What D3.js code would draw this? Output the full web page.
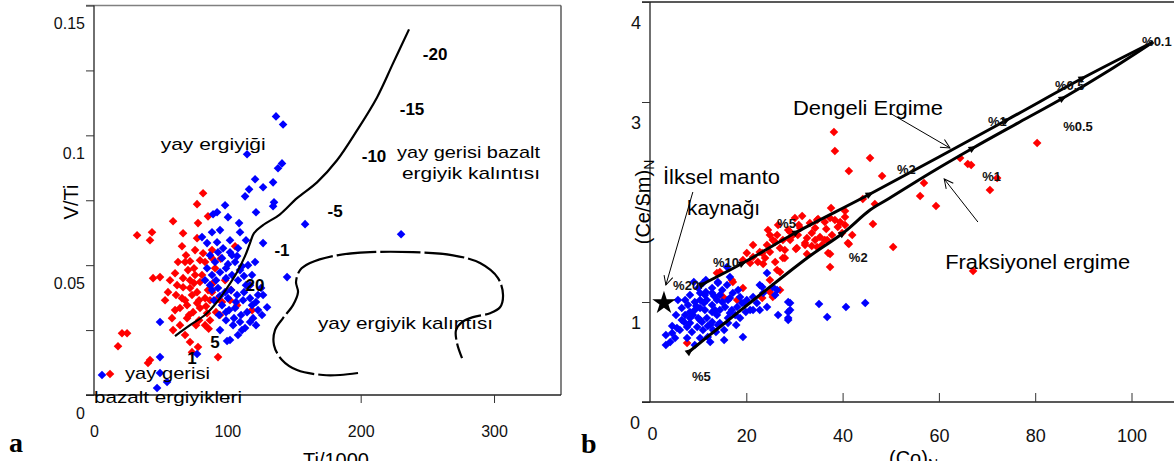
<!DOCTYPE html>
<html><head><meta charset="utf-8">
<script src="https://cdn.jsdelivr.net/npm/d3@7"></script>
<style>
body{margin:0;background:#fff;}
svg{display:block;font-family:"Liberation Sans",Arial,sans-serif;}
</style></head><body>
<svg id="c" width="1174" height="461"></svg>
<script>
// ---------- DATA : panel a (V/Ti vs Ti) ----------
const leftYTicks = [0,0.025,0.05,0.075,0.1,0.125,0.15];
const leftYLabels = {0:"0",0.05:"0.05",0.1:"0.1",0.15:"0.15"};
const leftXTicks = [0,100,200,300];
const leftRed = [[81.8,0.0777],[77.3,0.0735],[85.5,0.0688],[59.3,0.0669],[78,0.0662],[43.5,0.0627],[32.3,0.0615],[42,0.0596],[66.8,0.0623],[77.3,0.0604],[66,0.0573],[105.8,0.0573],[75.8,0.0558],[81.8,0.0546],[72,0.0515],[79.5,0.0519],[60.8,0.0469],[44.3,0.045],[49.5,0.0454],[70.5,0.0481],[72,0.0442],[66.8,0.0415],[66,0.0373],[69.8,0.0346],[64.5,0.0335],[74.3,0.0319],[72,0.0412],[77.3,0.0396],[79.5,0.0435],[83.3,0.0373],[77.3,0.0354],[85.5,0.0404],[79.5,0.0335],[84.8,0.0315],[96,0.0358],[107.3,0.0346],[118.5,0.0327],[59.3,0.025],[68.3,0.0231],[72,0.0204],[21,0.0238],[24.8,0.0238],[18,0.0188],[78,0.0185],[42,0.0135],[40.5,0.0123],[93,0.0146],[12,0.0081],[73.5,0.0165],[90.8,0.0488],[88.5,0.0558],[68.3,0.0512],[62.3,0.0423],[75.8,0.0462],[87,0.0365],[91.5,0.0319],[69.8,0.0296],[55.5,0.0396],[83.3,0.0269],[102.8,0.0404],[89.3,0.0431],[78.8,0.0288],[60.8,0.0327],[86,0.0255],[95,0.0525],
  [63,0.0512],[69,0.0538],[75,0.0488],[81,0.0462],[57,0.0442],[61.5,0.0385],[68.3,0.0365],[73.5,0.0385],[78.8,0.0365],[84,0.0342],[88.5,0.0396],[93,0.0373],[71.3,0.0308],[76.5,0.0269],[58.5,0.0296],[64.5,0.0269],[87,0.0288],[98.3,0.0442],[102,0.0365],[94.5,0.0308],[75,0.0431],[83.3,0.0512],[66.8,0.045],[88.5,0.0527],[53.3,0.0365]];
const leftBlue = [[136.5,0.1073],[141.8,0.1042],[114.8,0.0927],[141,0.0892],[138,0.0873],[120.8,0.0831],[134.3,0.0819],[126.8,0.08],[116.3,0.0792],[113.3,0.0765],[135,0.0742],[134.3,0.0727],[98.3,0.0731],[121.5,0.0704],[92.3,0.0704],[89.3,0.0696],[100.5,0.0685],[108.8,0.0662],[109.5,0.0627],[94.5,0.0635],[88.5,0.0627],[81,0.0608],[126.8,0.0585],[92.3,0.0588],[84.8,0.0585],[96.8,0.0565],[102,0.055],[107.3,0.0535],[144.8,0.0454],[158.3,0.0658],[230.3,0.0619],[49.5,0.0281],[49.5,0.0146],[6,0.0077],[49.5,0.0085],[54.8,0.005],[47.3,0.0027],[77.3,0.0158],[99.8,0.0208],[126.8,0.0385],[129.8,0.0338],[84.8,0.0488],[90.8,0.0512],[96,0.0527],[100.5,0.0504],[105.8,0.0512],[111,0.0496],[115.5,0.05],[88.5,0.0462],[94.5,0.0473],[99,0.045],[103.5,0.0462],[108,0.0442],[112.5,0.0458],[117,0.0423],[87,0.0423],[93,0.0412],[98.3,0.0396],[102.8,0.0404],[107.3,0.0385],[111.8,0.0365],[117,0.0373],[121.5,0.0358],[90,0.0365],[96,0.0346],[101.3,0.0327],[105.8,0.0335],[110.3,0.0308],[114.8,0.0319],[119.3,0.0296],[99,0.0288],[104.3,0.0269],[109.5,0.0281],[93.8,0.0308],[113.3,0.0258],[123,0.0327],[83.3,0.0442],[125.3,0.0412],[108,0.0231],[94.5,0.025],[102,0.0212],
  [87,0.0538],[93,0.055],[99,0.0488],[103.5,0.0538],[109.5,0.0481],[114,0.0423],[118.5,0.0462],[123,0.0385],[112.5,0.0396],[106.5,0.0358],[100.5,0.0373],[94.5,0.0381],[88.5,0.0404],[105,0.0296],[99,0.0319],[117,0.0281],[111,0.025],[121.5,0.0269],[126,0.0308],[91.5,0.0442],[118.5,0.0346],[108,0.0565],[114,0.0596],[102,0.0596],[120.8,0.0512]];
const leftCurve = [[60.75,0.0227],[72,0.0269],[83.25,0.0308],[92.25,0.0358],[99.75,0.0412],[107.25,0.0473],[113.25,0.0535],[117,0.0585],[120,0.0623],[126.75,0.0654],[139.5,0.0696],[152.25,0.0758],[167.25,0.0819],[182.25,0.0904],[197.25,0.1019],[212.25,0.1146],[224.25,0.1277],[236.25,0.1408]];
const leftResidue = [[198,0.00846],[184.5,0.0077],[171.75,0.0077],[152.25,0.0096],[141,0.0135],[135,0.0192],[135.75,0.025],[141.75,0.0296],[149.25,0.0346],[153,0.0396],[151.5,0.0435],[154.5,0.0481],[162,0.0508],[182.25,0.0538],[207,0.055],[239.25,0.055],[269.25,0.0538],[289.5,0.0508],[303,0.045],[306.75,0.0385],[304.5,0.0338],[297,0.0315],[284.25,0.03],[276,0.0281],[271.5,0.025],[272.25,0.02],[276,0.0142]];
const leftBoldLabels = [["-20",255.8,0.1315],["-15",238.5,0.1100],["-10",210,0.0919],["-5",180.8,0.0708],["-1",141,0.0558],["20",120.8,0.0423],["5",90.8,0.0204],["1",73.5,0.0142]];
const leftTexts = [["yay ergiyiği",50,0.0969,105],["yay gerisi bazalt",227.3,0.0935,143],["ergiyik kalıntısı",231,0.0854,138],["yay ergiyik kalıntısı",168,0.0277,175],["yay gerisi",23.3,0.0085,85],["bazalt ergiyikleri",0,-0.0008,148]];

// ---------- DATA : panel b ((Ce/Sm)N vs (Ce)N) ----------
const rightYTicks = [0,1,2,3,4];
const rightYLabels = {0:"0",1:"1",3:"3",4:"4"};
const rightXTicks = [0,20,40,60,80,100];
const rightRed = [[38.2,2.70],[38.4,2.51],[45.7,2.44],[41.3,2.31],[48.2,2.26],[44.2,2.03],[46.7,1.98],[37.6,1.94],[40.5,1.91],[40.5,1.85],[31.6,1.86],[34.9,1.83],[37.4,1.84],[39.5,1.80],[33.2,1.79],[30.9,1.77],[36.6,1.73],[39.0,1.75],[46.3,1.78],[26.6,1.77],[28.7,1.72],[24.9,1.67],[26.4,1.67],[29.7,1.67],[32.6,1.64],[35.3,1.65],[37.8,1.67],[25.5,1.62],[27.6,1.62],[36.3,1.62],[24.3,1.57],[33.6,1.56],[35.7,1.57],[41.3,1.58],[30.3,1.53],[27.0,1.54],[23.3,1.49],[24.9,1.50],[32.6,1.48],[37.4,1.48],[50.5,1.55],[27.6,1.44],[23.5,1.38],[37.4,1.35],[27.0,1.30],[56.9,2.19],[56.1,2.06],[59.4,1.96],[64.4,2.44],[66.0,2.38],[66.7,2.37],[70.6,2.12],[72.1,2.24],[80.4,2.59],[67.1,1.31],[34.7,1.82],[39.9,1.69],[41.1,1.59],[37.0,1.49],[30.7,1.67],[29.1,1.70],[26.0,1.60],[21.4,1.57],[22.8,1.50],[30.5,1.54],[34.7,1.55],[36.8,1.62],[28.0,1.44],[26.4,1.32],[24.9,1.22],[20.1,1.49],[21.4,1.45],[19.3,1.42],[20.8,1.39],[14.5,1.30],[17.0,1.22],[19.3,1.14],[25.5,1.05],[18.1,1.02],[15.2,1.05],[7.7,0.59],[27.0,1.12],[24.9,1.10],[32.2,1.59],[33.6,1.69],[13.9,1.29],[17.2,1.20],[23.3,1.04],
  [29.1,1.62],[31.2,1.74],[34.3,1.74],[36.3,1.80],[38.4,1.82],[32.2,1.57],[28.0,1.52],[23.9,1.44],[26.0,1.40],[22.4,1.40],[34.3,1.62],[40.5,1.77],[42.0,1.67],[30.1,1.84],[24.5,1.72]];
const rightBlue = [[24.3,1.29],[22.8,1.17],[25.5,1.15],[23.5,1.09],[22.2,0.99],[24.3,0.95],[20.8,0.92],[22.8,0.92],[26.6,0.87],[29.1,0.99],[29.1,0.92],[28.7,0.84],[35.1,0.98],[36.8,0.85],[40.7,0.95],[44.7,0.99],[19.3,0.65],[18.7,1.05],[18.1,0.95],[16.6,0.89],[16.2,0.79],[20.1,1.02],[21.4,1.05],[4.2,0.60],[4.6,0.69],[5.6,0.74],[6.6,0.82],[7.7,0.64],[8.3,0.90],[9.3,1.00],[10.4,1.09],[11.0,1.19],[12.9,1.14],[14.5,1.07],[16.0,1.17],[17.2,1.09],[17.7,0.87],[15.6,0.95],[13.9,0.87],[12.5,0.77],[11.0,0.72],[9.8,0.75],[8.3,0.79],[12.0,0.65],[13.1,0.72],[14.5,0.79],[10.0,0.84],[11.4,0.92],[12.9,0.97],[13.9,1.02],[11.8,1.02],[10.4,0.94],[8.9,0.87],[7.7,0.75],[6.2,0.72],[19.7,0.99],[21.4,0.92],[23.3,1.15],[26.0,1.07],[26.4,1.12],[28.7,1.00],[28.7,0.90],[28.7,0.82],[14.1,1.20],[16.6,1.25],[16.0,1.35],[9.3,0.92],[10.8,0.80],[13.5,0.92],[15.0,1.00],[11.8,0.84],[10.4,1.02],[7.3,0.87],[5.2,0.64],[12.9,1.09],[14.1,0.77],[11.4,1.07],[16.2,1.02],
  [7.3,1.02],[8.3,1.07],[10.0,1.14],[11.6,1.10],[13.3,1.06],[15.0,1.12],[16.6,1.04],[18.3,1.12],[7.9,0.97],[9.6,0.96],[11.2,0.99],[12.9,0.90],[14.5,0.92],[16.2,0.84],[7.1,0.80],[8.7,0.70],[10.4,0.64],[12.0,0.76],[13.7,0.70],[15.4,0.72],[5.4,0.87],[6.6,0.94],[4.6,0.76],[3.3,0.67],[9.3,0.57],[12.5,0.60],[17.0,0.92],[18.7,0.84],[10.4,0.82],[12.9,0.80],[14.1,1.19],[11.6,1.22],[9.1,1.20],[19.1,0.99],[19.9,0.90],[17.9,0.77],[15.4,0.62],[5.8,1.02],[3.3,0.57],[8.3,0.84]];
const batchLine = [[11.0,1.18],[19.3,1.39],[30.5,1.70],[45.7,2.08],[74.1,2.82],[89.9,3.24],[104.5,3.60]];
const fracLine = [[8.3,0.51],[14.5,0.75],[22.8,1.07],[27.0,1.23],[33.2,1.46],[40.1,1.69],[45.7,1.92],[49.8,2.04],[58.2,2.29],[67.1,2.54],[76.8,2.80],[85.8,3.04],[95.5,3.32],[104.5,3.60]];
const batchTicks = [11.0,19.3,30.5,45.7,74.1,89.9];
const fracTicks = [8.3,40.1,67.1,85.8];
const primitiveMantle = [2.9,0.99];
const pctLabels = [["%20",4.8,1.17],["%10",13.1,1.40],["%5",26.4,1.79],["%2",51.3,2.33],["%1",70.2,2.81],["%0.5",84.1,3.17],["%0.1",102.2,3.61],["%5",8.7,0.26],["%2",41.3,1.45],["%1",69.0,2.26],["%0.5",85.8,2.76]];
const rightTexts = [["Dengeli Ergime",29.7,2.94,150],["Fraksiyonel ergime",61.3,1.40,185],["İlksel manto",2.7,2.25,117],["kaynağı",7.7,1.94,73]];
const rightArrows = [[[8.9,2.10],[3.3,1.17]],[[49.8,2.89],[62.3,2.54]],[[68.1,1.80],[61.1,2.23]]];

// ---------- DRAW ----------
const svg = d3.select("#c");
const RED = "#ff0000", BLUE = "#0000ff";
const diamond = "M0,-4.3L4.3,0L0,4.3L-4.3,0Z";

// ===== Panel a =====
const xa = d3.scaleLinear().domain([0,350]).range([94,560.7]);
const ya = d3.scaleLinear().domain([0,0.15]).range([395,5.5]);
const ga = svg.append("g");
ga.append("line").attr("x1",86).attr("x2",561).attr("y1",5.5).attr("y2",5.5).attr("stroke","#808080").attr("stroke-width",1.5);
ga.append("line").attr("x1",561).attr("x2",561).attr("y1",5.5).attr("y2",395).attr("stroke","#404040").attr("stroke-width",1.3);
const axYa = ga.append("g").attr("transform","translate(94,0)")
  .call(d3.axisLeft(ya).tickValues(leftYTicks).tickSize(8).tickPadding(1).tickFormat(d=>leftYLabels[d]!==undefined?leftYLabels[d]:""));
const axXa = ga.append("g").attr("transform","translate(0,395)")
  .call(d3.axisBottom(xa).tickValues(leftXTicks).tickSize(8).tickPadding(23).tickFormat(d=>String(d)));
[axYa,axXa].forEach(a=>{a.select(".domain").attr("stroke","#222").attr("stroke-width",1.3);
  a.selectAll(".tick line").attr("stroke","#333");
  a.selectAll("text").attr("font-size",16).attr("fill","#111").attr("font-family","Liberation Sans, Arial");});
axYa.selectAll("text").attr("transform","translate(0,18)");
axYa.select(".domain").attr("d","M0,5.5V395");
axXa.select(".domain").attr("d","M86,0H561");
axXa.selectAll(".tick").filter(d=>d===0).select("line").remove();
// points
ga.selectAll("path.r").data(leftRed).join("path").attr("d",diamond).attr("fill",RED)
  .attr("transform",d=>`translate(${xa(d[0])},${ya(d[1])})`);
ga.selectAll("path.b").data(leftBlue).join("path").attr("d",diamond).attr("fill",BLUE)
  .attr("transform",d=>`translate(${xa(d[0])},${ya(d[1])})`);
// curves
const lineA = d3.line().x(d=>xa(d[0])).y(d=>ya(d[1])).curve(d3.curveCatmullRom);
ga.append("path").attr("d",lineA(leftCurve)).attr("fill","none").attr("stroke","#000").attr("stroke-width",2.2);
ga.append("path").attr("d",lineA(leftResidue)).attr("fill","none").attr("stroke","#000").attr("stroke-width",2.2).attr("stroke-dasharray","40,4");
// labels
ga.selectAll("text.bl").data(leftBoldLabels).join("text").attr("x",d=>xa(d[1])).attr("y",d=>ya(d[2]))
  .attr("dy","0.36em").attr("text-anchor","middle").attr("font-weight","bold").attr("font-size",17).text(d=>d[0]);
ga.selectAll("text.tx").data(leftTexts).join("text").attr("x",d=>xa(d[1])).attr("y",d=>ya(d[2]))
  .attr("dy","0.36em").attr("font-size",17).attr("textLength",d=>d[3]).attr("lengthAdjust","spacingAndGlyphs").text(d=>d[0]);
ga.append("text").attr("transform","translate(78,202) rotate(-90)").attr("text-anchor","middle").attr("font-size",20).text("V/Ti");
ga.append("text").attr("x",303).attr("y",467).attr("font-size",20).text("Ti/1000");
ga.append("text").attr("x",9).attr("y",452).attr("font-family","Liberation Serif, serif").attr("font-weight","bold").attr("font-size",28).text("a");

// ===== Panel b =====
const xb = d3.scaleLinear().domain([0,109]).range([650,650+109*4.815]);
const yb = d3.scaleLinear().domain([0,4]).range([402,2]);
const gb = svg.append("g");
gb.append("line").attr("x1",642).attr("x2",1174).attr("y1",2).attr("y2",2).attr("stroke","#222").attr("stroke-width",1.5);
const axYb = gb.append("g").attr("transform","translate(650,0)")
  .call(d3.axisLeft(yb).tickValues(rightYTicks).tickSize(8).tickPadding(1).tickFormat(d=>rightYLabels[d]!==undefined?rightYLabels[d]:""));
const axXb = gb.append("g").attr("transform","translate(0,402)")
  .call(d3.axisBottom(xb).tickValues(rightXTicks).tickSize(-9).tickPadding(27).tickFormat(d=>String(d)));
[axYb,axXb].forEach(a=>{a.select(".domain").attr("stroke","#222").attr("stroke-width",1.3);
  a.selectAll(".tick line").attr("stroke","#333");
  a.selectAll("text").attr("font-size",18).attr("fill","#111").attr("font-family","Liberation Sans, Arial");});
axYb.selectAll("text").attr("transform","translate(0,21)");
axYb.select(".domain").attr("d","M0,2V402");
axXb.select(".domain").attr("d","M642,0H1174");
axXb.selectAll(".tick").filter(d=>d===0).select("line").remove();
axXb.selectAll(".tick").filter(d=>d===0).select("text").attr("x",2).attr("dy","0.6em");
axYb.selectAll(".tick").filter(d=>d===0).select("text").attr("x",-10);
// points
gb.selectAll("path.r").data(rightRed).join("path").attr("d",diamond).attr("fill",RED)
  .attr("transform",d=>`translate(${xb(d[0])},${yb(d[1])})`);
gb.selectAll("path.b").data(rightBlue).join("path").attr("d",diamond).attr("fill",BLUE)
  .attr("transform",d=>`translate(${xb(d[0])},${yb(d[1])})`);
// model lines
const lineB = d3.line().x(d=>xb(d[0])).y(d=>yb(d[1])).curve(d3.curveCatmullRom);
gb.append("path").attr("d",lineB(batchLine)).attr("fill","none").attr("stroke","#000").attr("stroke-width",3);
gb.append("path").attr("d",lineB(fracLine)).attr("fill","none").attr("stroke","#000").attr("stroke-width",3);
function tickMarks(line, xs){
  xs.forEach(x=>{
    let i = 0; while(i<line.length-2 && line[i+1][0]<x) i++;
    const a=line[i], b=line[i+1];
    const t=(x-a[0])/(b[0]-a[0]); const yv=a[1]+t*(b[1]-a[1]);
    const ang=Math.atan2(yb(b[1])-yb(a[1]), xb(b[0])-xb(a[0]))*180/Math.PI;
    gb.append("path").attr("d","M4,0L-4,-3.5L-4,3.5Z").attr("fill","#000")
      .attr("transform",`translate(${xb(x)},${yb(yv)}) rotate(${ang})`);
  });
}
tickMarks(batchLine,batchTicks); tickMarks(fracLine,fracTicks);
gb.append("path").attr("d",d3.symbol().type(d3.symbolStar).size(170)())
  .attr("transform",`translate(${xb(primitiveMantle[0])},${yb(primitiveMantle[1])})`).attr("fill","#000");
const defs = svg.append("defs");
defs.append("marker").attr("id","ah").attr("viewBox","-10 -6 12 12").attr("refX",0).attr("refY",0)
  .attr("markerWidth",12).attr("markerHeight",12).attr("markerUnits","userSpaceOnUse").attr("orient","auto")
  .append("path").attr("d","M-9,-4.5L0,0L-9,4.5").attr("fill","none").attr("stroke","#000").attr("stroke-width",1);
gb.selectAll("line.arr").data(rightArrows).join("line")
  .attr("x1",d=>xb(d[0][0])).attr("y1",d=>yb(d[0][1])).attr("x2",d=>xb(d[1][0])).attr("y2",d=>yb(d[1][1]))
  .attr("stroke","#000").attr("stroke-width",1).attr("marker-end","url(#ah)");
gb.selectAll("text.pct").data(pctLabels).join("text").attr("x",d=>xb(d[1])).attr("y",d=>yb(d[2]))
  .attr("dy","0.36em").attr("font-weight","bold").attr("font-size",13).attr("fill","#111").text(d=>d[0]);
gb.selectAll("text.tx").data(rightTexts).join("text").attr("x",d=>xb(d[1])).attr("y",d=>yb(d[2]))
  .attr("dy","0.36em").attr("font-size",20).attr("textLength",d=>d[3]).attr("lengthAdjust","spacingAndGlyphs").text(d=>d[0]);
const yl = gb.append("text").attr("transform","translate(650,202) rotate(-90)").attr("text-anchor","middle").attr("font-size",20);
yl.append("tspan").text("(Ce/Sm)");
yl.append("tspan").attr("font-size",14).attr("dy",4).text("N");
const xl = gb.append("text").attr("x",889).attr("y",465).attr("font-size",20);
xl.append("tspan").text("(Co)");
xl.append("tspan").attr("font-size",14).attr("dy",4).text("N");
gb.append("text").attr("x",581).attr("y",453).attr("font-family","Liberation Serif, serif").attr("font-weight","bold").attr("font-size",28).text("b");
</script>
</body></html>
